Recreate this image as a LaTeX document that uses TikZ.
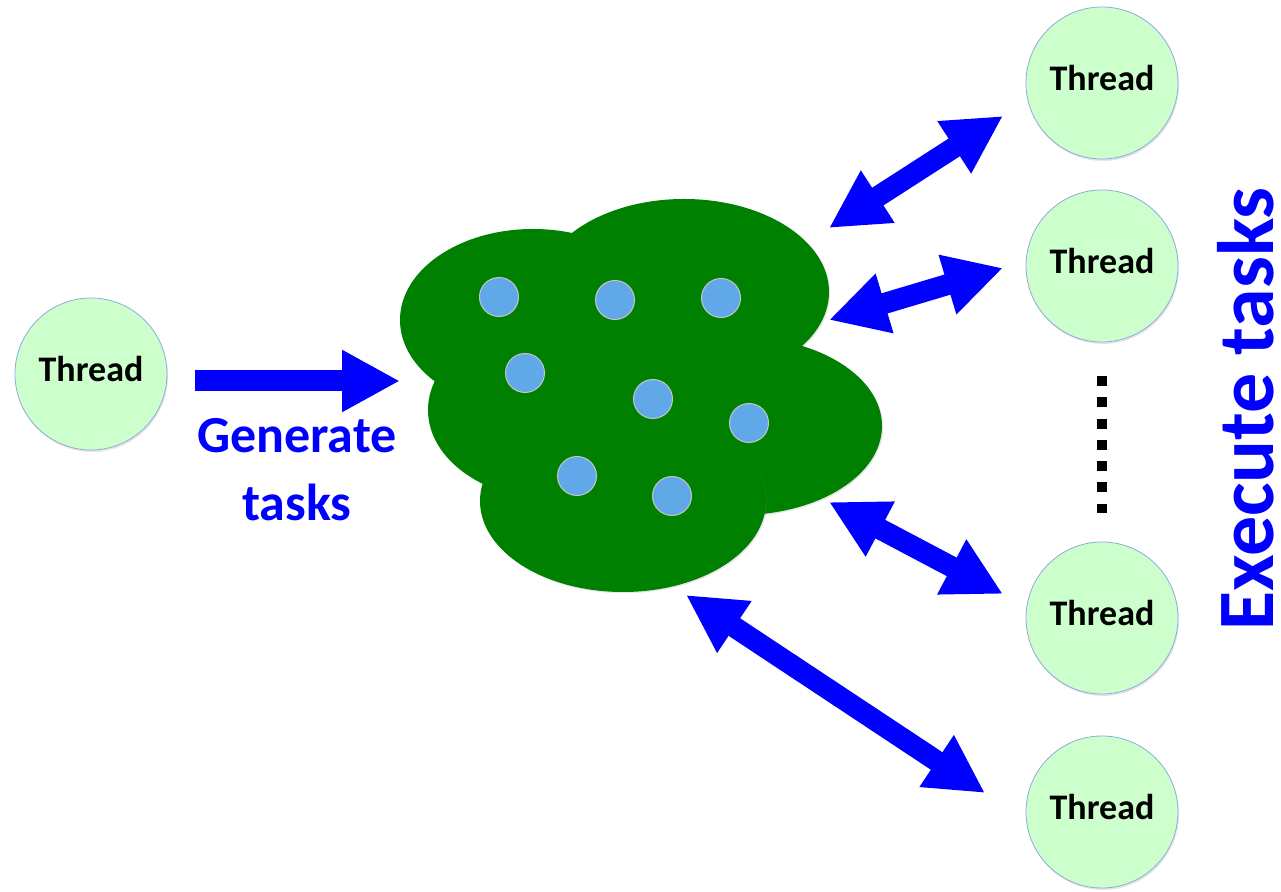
\documentclass[tikz,border=0pt]{standalone}
\usepackage{fontspec}
\setmainfont{Carlito}
\usetikzlibrary{arrows.meta,shapes.geometric,shadows}
\definecolor{threadfill}{RGB}{204,255,204}
\definecolor{threadline}{RGB}{143,170,220}
\definecolor{poolgreen}{RGB}{0,128,0}
\definecolor{taskblue}{RGB}{97,168,232}

\begin{document}
\begin{tikzpicture}[x=0.5pt, y=-0.5pt,
thread/.style={circle, draw=threadline, fill=threadfill, minimum size=76pt, inner sep=0pt, text depth=5pt,
  font=\bfseries\fontsize{18}{20}\selectfont, drop shadow={opacity=0.2, shadow xshift=0.5pt, shadow yshift=-1pt}},
blob/.style={ellipse, fill=poolgreen, inner sep=0pt, drop shadow={opacity=0.2, shadow xshift=0.6pt, shadow yshift=-0.6pt}},
task/.style={circle, fill=taskblue, draw=gray!45, line width=0.5pt, minimum size=19.5pt, inner sep=0pt},
link/.style={blue, line width=10.5pt, {Triangle[length=29pt,width=29pt]}-{Triangle[length=29pt,width=29pt]}},
push/.style={blue, line width=10.5pt, -{Triangle[length=29pt,width=29pt]}},
]
\useasboundingbox (0,0) rectangle (1281,892);

% threads
\node[thread] (src) at (91,374) {Thread};
\node[thread] (w1) at (1102,83) {Thread};
\node[thread] (w2) at (1102,266) {Thread};
\node[thread] (w3) at (1102,618) {Thread};
\node[thread] (w4) at (1102,812) {Thread};

% task pool
\node[blob, minimum width=133pt, minimum height=91pt] (b2) at (533,320) {};
\node[blob, minimum width=145pt, minimum height=93pt] (b1) at (684,292) {};
\node[blob, minimum width=128pt, minimum height=90pt] (b3) at (556,410) {};
\node[blob, minimum width=142pt, minimum height=89pt] (b4) at (740,426) {};
\node[blob, minimum width=143pt, minimum height=91pt] (b5) at (623,501) {};

\node[task] (k1) at (499,297) {};
\node[task] (k2) at (615,300) {};
\node[task] (k3) at (721,298) {};
\node[task] (k4) at (525,373) {};
\node[task] (k5) at (653,399) {};
\node[task] (k6) at (749,423) {};
\node[task] (k7) at (577,476) {};
\node[task] (k8) at (672,496) {};

% generate
\coordinate (g1) at (195,381);
\coordinate (g2) at (400,381);
\draw[push] (g1) -- (g2);
\node[text=blue, align=center, font=\bfseries\fontsize{26}{34}\selectfont] (gen) at (297,470) {Generate\\tasks};

% execute
\coordinate (a1) at (829,228);
\coordinate (a2) at (1003,116);
\coordinate (c1) at (829,320);
\coordinate (c2) at (1003,268);
\coordinate (e1) at (829,502);
\coordinate (e2) at (1003,594);
\coordinate (f1) at (686,595);
\coordinate (f2) at (985,793);
\draw[link] (a1) -- (a2);
\draw[link] (c1) -- (c2);
\draw[link] (e1) -- (e2);
\draw[link] (f1) -- (f2);

\coordinate (dtop) at (1102,376);
\coordinate (dbot) at (1102,513);
\draw[line width=5pt, dash pattern=on 5pt off 5.65pt] (dtop) -- (dbot);

\node[rotate=90, anchor=base, inner sep=0pt, text=blue, font=\bfseries\fontsize{40}{48}\selectfont] (exec) at (1273,409) {Execute tasks};
\end{tikzpicture}
\end{document}
